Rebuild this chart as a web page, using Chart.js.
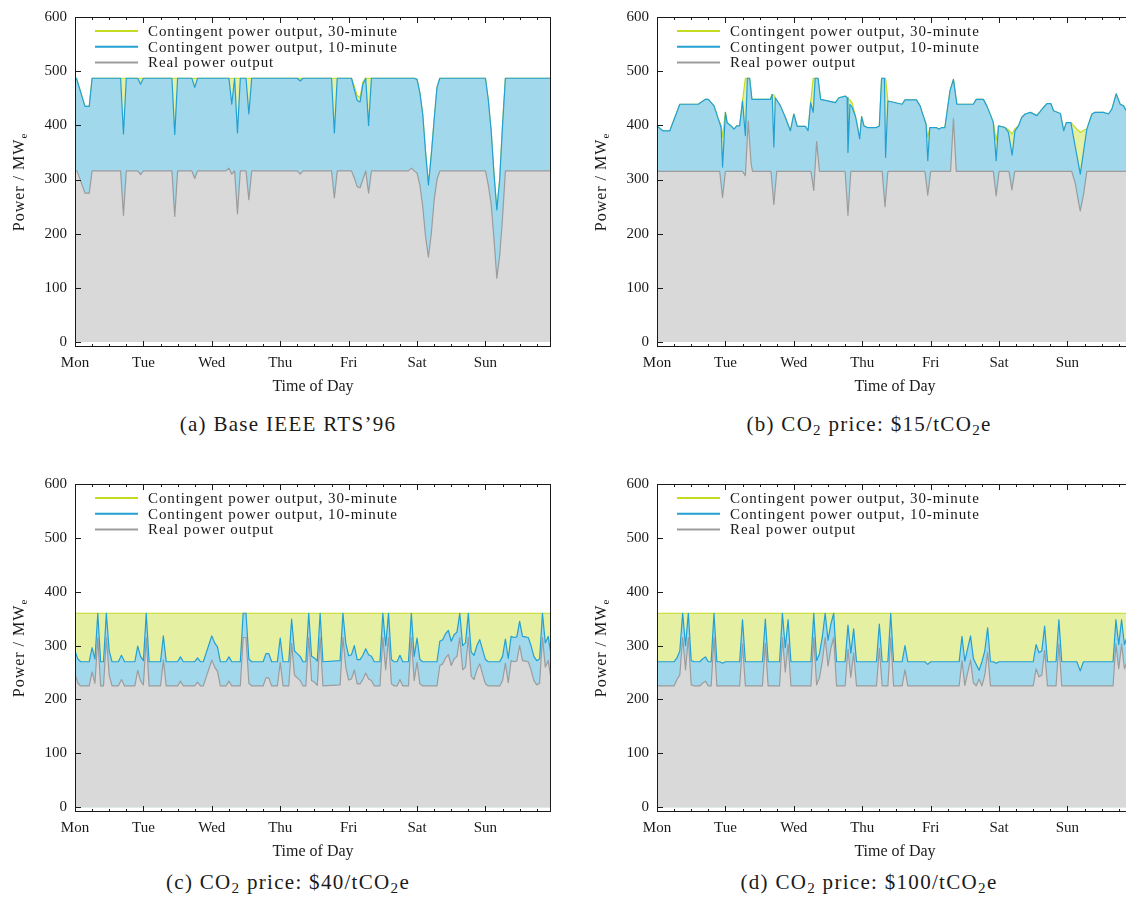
<!DOCTYPE html>
<html>
<head>
<meta charset="utf-8">
<script src="https://cdn.jsdelivr.net/npm/chart.js@4.4.1/dist/chart.umd.min.js"></script>
<style>
  body { margin: 0; background: #fff; width: 1126px; height: 900px; overflow: hidden; position: relative;
         font-family: "Liberation Serif", serif; color: #1a1a1a; }
  .panel { position: absolute; }
  .caption { position: absolute; width: 560px; text-align: center; font-size: 21px; line-height: 24px; letter-spacing: 1.3px; }
  .caption sub { font-size: 72%; vertical-align: -0.25em; line-height: 0; }
</style>
</head>
<body>
<div class="panel" style="left:0;top:0"><canvas id="chartA" width="570" height="400"></canvas></div>
<div class="panel" style="left:582px;top:0"><canvas id="chartB" width="570" height="400"></canvas></div>
<div class="panel" style="left:0;top:467px"><canvas id="chartC" width="570" height="398"></canvas></div>
<div class="panel" style="left:582px;top:467px"><canvas id="chartD" width="570" height="398"></canvas></div>

<div class="caption" style="left:8px;top:412px">(a) Base IEEE RTS’96</div>
<div class="caption" style="left:589px;top:412px">(b) CO<sub>2</sub> price: $15/tCO<sub>2</sub>e</div>
<div class="caption" style="left:8px;top:870px">(c) CO<sub>2</sub> price: $40/tCO<sub>2</sub>e</div>
<div class="caption" style="left:589px;top:870px">(d) CO<sub>2</sub> price: $100/tCO<sub>2</sub>e</div>

<script>
// axis labels
const dayLabels = ['Mon', 'Tue', 'Wed', 'Thu', 'Fri', 'Sat', 'Sun'];
const yTicks = [0, 100, 200, 300, 400, 500, 600];
const xTitle = 'Time of Day';
const yTitle = 'Power / MW';
const yTitleSub = 'e';
const seriesLabels = [
  'Contingent power output, 30-minute',
  'Contingent power output, 10-minute',
  'Real power output'
];

// series are [hour, MW] breakpoints over the week (0 = Monday 00:00)

// (a) base case
const aThirty = [[0,487],[0.5,487],[3.5,435],[5,435],[6,487],
  [97,487],[98,472],[99,455],[100,451],[101,480],[102,487],
  [119,487],[120,485],[121,460],[122,420],[123,350],[124,290],[125,345],[126,410],[127,470],[128,487],
  [144,487],[145,447],[146,390],[147,310],[148,244],[149,300],[150,400],[151,487],
  [167,487]];
const aTen = [[0,487],[0.5,487],[3.5,435],[5,435],[6,487],
  [16,487],[17,384],[18,487],
  [22,487],[23,476],[24,487],
  [34,487],[35,383],[36,487],
  [41,487],[42,470],[43,487],
  [54,487],[55,439],[56,487],[57,386],[58,487],
  [60,487],[61,421],[62,487],
  [78,487],[79,482],[80,487],
  [90,487],[91,386],[92,487],
  [97,487],[98,466],[99,446],[100,443],[101,476],[102,487],[103,400],[104,487],
  [119,487],[120,485],[121,460],[122,420],[123,350],[124,290],[125,345],[126,410],[127,470],[128,487],
  [144,487],[145,447],[146,390],[147,310],[148,244],[149,300],[150,400],[151,487],
  [167,487]];
const aReal = [[0,316],[0.7,316],[3.5,275],[5,275],[6,316],
  [16,316],[17,234],[18,316],
  [22,316],[23,309],[24,316],
  [34,316],[35,232],[36,316],
  [41,316],[42,302],[43,316],
  [53,316],[54,321],[55,310],[56,316],[57,237],[58,316],
  [60,316],[61,263],[62,316],
  [78,316],[79,310],[80,316],
  [90,316],[91,266],[92,316],
  [97,316],[98,303],[99,287],[100,285],[101,300],[102,316],[103,275],[104,316],
  [117,316],[118,321],[119,316],[120,312],[121,290],[122,250],[123,194],[124,157],[125,200],[126,262],[127,300],[128,316],
  [144,316],[145,290],[146,255],[147,190],[148,118],[149,160],[150,230],[151,316],
  [167,316]];

// (b) $15/tCO2e
const bTen = [[0,399],[2,390],[4.5,390],[8,439],[14.5,439],[17,448],[18,448],[20,436],[21.5,412],[22.5,396],[23,323],
  [24,424],[24.6,405],[26,399],[27,393],[28,399],[29,399],[30,445],[31,381],[31.7,487],[32.5,487],[33.3,448],
  [39.8,448],[40.4,457],[41,360],[41.5,451],[43.3,436],[45,415],[46.8,390],[48,421],[49.2,398],[52.1,398],[53,390],
  [53.9,442],[54.8,424],[55.5,487],[56.5,487],[57.4,448],
  [62.6,442],[63.8,451],[66.1,454],[66.7,451],[67,350],[67.7,439],[68.5,433],[69.7,415],[70.5,393],[71.1,375],
  [71.8,416],[72.6,399],[73.8,396],[77,396],[78,399],[78.8,487],[79.8,487],[80.2,341],[81,445],
  [86,439],[87,447],[91,447],[92.3,436],[93.4,418],[94.4,402],[95,335],[95.7,396],[98,396],[98.9,393],[99.9,396],
  [101,396],[102.8,464],[104,485],[105.2,439],[111,439],[112,448],[114.5,448],[115.7,436],[117.1,418],[118,405],
  [119,335],[119.8,399],[122.1,396],[123.3,387],[124.6,345],[125.6,390],[126.8,399],[128,415],[129.2,421],[131,424],
  [133.3,418],[135.6,433],[136.8,440],[138.2,440],[139.1,427],[141.5,422],[142.7,390],[143.6,405],[145.2,405],
  [148.5,310],[150.8,393],[152.6,421],[153.7,424],[156.6,424],[158.4,421],[159.6,430],[161.1,458],[162.5,439],
  [163.7,436],[164.6,427],[167,427]];
// hours where the 30-minute output sits above the 10-minute output
const bThirtyExtra = [[22.5,400],[23,378],[31,487],[41,456],[54.8,487],[67,449],[67.7,447],[68.5,441],
  [80.2,487],[95,378],[119,372],[123.3,392],[124.6,384],[125.6,394],[147,395],[148.5,387],[150,392]];
const bReal = [[0,315],[22,315],[23,267],[24,315],
  [30,315],[31,307],[32,408],[33,330],[33.5,315],
  [40,315],[41,254],[42,315],
  [54,315],[55,280],[56,370],[57,315],
  [66,315],[67,234],[68,315],
  [79,315],[80,250],[81,315],
  [94,315],[95,271],[96,315],
  [103,315],[104,412],[105,315],
  [118,315],[119,270],[120,315],
  [123.5,315],[124.5,281],[125.5,315],
  [145.5,315],[146.8,292],[148,255],[148.5,242],[149.7,274],[150.8,315],
  [167,315]];

// (c) $40/tCO2e
const cThirty = [[0,360],[167,360]];
const cTen = [[0,290],[1,275],[2,270],
  [5,270],[6,296],[7,275],[8,360],[9,270],[10,270],[11,360],[12,290],[13,270],
  [15.2,270],[16.3,282],[17.4,270],
  [21,270],[22,299],[23,280],[24,272],[25,360],[26,270],
  [30,270],[31,318],[32,270],
  [36,270],[37,279],[38,270],
  [42,270],[43,277],[44,270],
  [45,270],[46,286],[47,302],[48,318],[49,305],[50,297],[51,270],
  [53,270],[54,279],[55,270],
  [58,270],[59,360],[60,360],[61,275],[62,270],
  [66,270],[67,285],[68,285],[69,270],
  [71,270],[72,314],[73,270],
  [75,270],[76,349],[77,290],[78,285],[79,280],[80,270],
  [81,270],[82,360],[83,280],[84,277],[85,271],[86,360],[87,270],
  [93,272],[94,360],[95,305],[96,281],[97,283],[98,300],[99,274],[100,274],[101,282],[102,294],[103,283],[104,280],[105,270],
  [107,270],[108,360],[109,300],[110,360],[111,274],[112,270],
  [113,270],[114,282],[115,270],
  [117,270],[118,360],[119,280],[120,314],[121,274],[122,270],
  [127,270],[128,308],[129,311],[130,322],[131,328],[132,308],[133,320],[134,325],[135,360],[136,300],[137,305],
  [138,360],[139,288],[140,282],[141,300],[142,311],[143,292],[144,274],[145,270],
  [149,270],[150,280],[151,312],[152,276],[153,317],[154,315],[155,316],[156,345],[157,317],[158,316],[159,315],
  [160,300],[161,280],[162,272],[163,275],[164,360],[165,305],[166,317],[167,283]];
const cReal = [[0,248],[1,230],[2,225],
  [5,225],[6,251],[7,230],[8,315],[9,225],[10,225],[11,315],[12,245],[13,225],
  [15.2,225],[16.3,237],[17.4,225],
  [21,225],[22,254],[23,235],[24,227],[25,315],[26,225],
  [30,225],[31,273],[32,225],
  [36,225],[37,234],[38,225],
  [42,225],[43,232],[44,225],
  [45,225],[46,241],[47,257],[48,273],[49,260],[50,252],[51,225],
  [53,225],[54,234],[55,225],
  [58,225],[59,315],[60,315],[61,230],[62,225],
  [66,225],[67,240],[68,240],[69,225],
  [71,225],[72,269],[73,225],
  [75,225],[76,304],[77,245],[78,240],[79,235],[80,225],
  [81,225],[82,315],[83,235],[84,232],[85,226],[86,315],[87,225],
  [93,227],[94,315],[95,260],[96,236],[97,238],[98,255],[99,229],[100,229],[101,237],[102,249],[103,238],[104,235],[105,225],
  [107,225],[108,315],[109,255],[110,315],[111,229],[112,225],
  [113,225],[114,237],[115,225],
  [117,225],[118,315],[119,235],[120,269],[121,229],[122,225],
  [127,225],[128,263],[129,266],[130,277],[131,283],[132,263],[133,275],[134,280],[135,315],[136,255],[137,260],
  [138,315],[139,243],[140,237],[141,255],[142,266],[143,247],[144,229],[145,225],
  [149,225],[150,235],[151,267],[152,231],[153,272],[154,270],[155,271],[156,300],[157,272],[158,271],[159,270],
  [160,255],[161,235],[162,227],[163,230],[164,315],[165,260],[166,272],[167,238]];

// (d) $100/tCO2e
const dThirty = [[0,360],[167,360]];
const dTen = [[0,270],[6,270],[7,277],[8,290],[9,360],[10,300],[11,360],[12,272],[13,270],
  [15,270],[16,275],[17,279],[18,270],
  [19,270],[20,360],[21,270],
  [22,270],[23,267],[24,270],
  [29,270],[30,348],[31,270],
  [37,270],[38,349],[39,270],
  [43,270],[44,360],[45,296],[46,348],[47,270],
  [54,270],[55,360],[56,272],[57,285],[58,316],[59,360],[60,310],[61,340],[62,360],[63,270],
  [66,270],[67,338],[68,286],[69,331],[70,270],
  [77,270],[78,340],[79,270],
  [81,270],[82,360],[83,270],
  [86,270],[87,300],[88,270],
  [94,270],[95,265],[96,270],
  [106,270],[107,317],[108,271],[109,295],[110,318],[111,276],[112,265],[113,254],[114,270],[115,290],[116,333],[117,270],
  [118,270],[119,267],[120,270],
  [132,270],[133,302],[134,287],[135,290],[136,336],[137,270],
  [140,270],[141,348],[142,270],
  [147.3,270],[148.5,253],[149.6,270],
  [160,270],[161,348],[162,302],[163,348],[164,302],[165,317],[166,300],[167,290]];
const dReal = [[0,225],[6,225],[7,237],[8,245],[9,315],[10,255],[11,315],[12,227],[13,225],
  [15,225],[16,230],[17,234],[18,225],
  [19,225],[20,315],[21,225],
  [29,225],[30,303],[31,225],
  [37,225],[38,304],[39,225],
  [43,225],[44,315],[45,251],[46,303],[47,225],
  [54,225],[55,315],[56,227],[57,240],[58,271],[59,315],[60,262],[61,295],[62,315],[63,225],
  [66,225],[67,293],[68,241],[69,286],[70,225],
  [77,225],[78,295],[79,225],
  [81,225],[82,315],[83,225],
  [86,225],[87,255],[88,225],
  [106,225],[107,272],[108,226],[109,250],[110,273],[111,231],[112,225],[113,238],[114,225],[115,245],[116,288],[117,225],
  [132,225],[133,257],[134,242],[135,245],[136,291],[137,225],
  [140,225],[141,303],[142,225],
  [160,225],[161,303],[162,257],[163,303],[164,257],[165,272],[166,255],[167,245]];

// 30-minute curve = 10-minute curve with its own values at the listed hours
function withOverrides(base, extra) {
  const m = new Map(base.map(([h, v]) => [h, v]));
  extra.forEach(([h, v]) => m.set(h, v));
  return [...m.entries()].sort((p, q) => p[0] - q[0]);
}

const panels = [
  { id: 'chartA', thirty: aThirty, ten: aTen, real: aReal },
  { id: 'chartB', thirty: withOverrides(bTen, bThirtyExtra), ten: bTen, real: bReal },
  { id: 'chartC', thirty: cThirty, ten: cTen, real: cReal },
  { id: 'chartD', thirty: dThirty, ten: dTen, real: dReal },
];

const styles = [
  { line: '#c3da1f', fill: '#e6f0a2', order: 3 },
  { line: '#22a0d3', fill: '#a2d8ec', order: 2 },
  { line: '#9c9c9c', fill: '#d9d9d9', order: 1 },
];

const FONT = '"Liberation Serif", serif';
const INK = '#1a1a1a';
Chart.defaults.font.family = FONT;
Chart.defaults.font.size = 15;
Chart.defaults.color = INK;

// frame, inward ticks, in-plot legend and the y title with subscript
const decor = {
  id: 'decor',
  afterDatasetsDraw(chart) {
    const { ctx, chartArea: a, scales: { x, y } } = chart;
    ctx.save();
    ctx.strokeStyle = INK;
    ctx.lineWidth = 1;
    ctx.beginPath();
    for (let h = 0; h <= x.max; h += 6) {
      const px = Math.round(x.getPixelForValue(h)) + 0.5;
      const len = h % 24 === 0 ? 6 : 3;
      ctx.moveTo(px, a.bottom); ctx.lineTo(px, a.bottom - len);
      ctx.moveTo(px, a.top); ctx.lineTo(px, a.top + len);
    }
    yTicks.forEach(v => {
      const py = Math.round(y.getPixelForValue(v)) + 0.5;
      ctx.moveTo(a.left, py); ctx.lineTo(a.left + 6, py);
    });
    ctx.stroke();
    ctx.strokeRect(Math.round(a.left) + 0.5, Math.round(a.top) + 0.5, Math.round(a.width) - 1, Math.round(a.height) - 1);

    // legend
    ctx.font = '15px ' + FONT;
    ctx.letterSpacing = '0.9px';
    ctx.textBaseline = 'middle';
    ctx.fillStyle = INK;
    chart.data.datasets.forEach((ds, i) => {
      const ly = a.top + 14 + i * 15.7;
      ctx.strokeStyle = ds.borderColor;
      ctx.lineWidth = 2;
      ctx.beginPath();
      ctx.moveTo(a.left + 20, ly); ctx.lineTo(a.left + 63, ly);
      ctx.stroke();
      ctx.fillText(ds.label, a.left + 73, ly + 1);
    });
    ctx.restore();
  },
  afterDraw(chart) {
    const { ctx, chartArea: a } = chart;
    ctx.save();
    ctx.translate(20, (a.top + a.bottom) / 2);
    ctx.rotate(-Math.PI / 2);
    ctx.fillStyle = INK;
    ctx.textBaseline = 'middle';
    ctx.letterSpacing = '1px';
    ctx.font = '16px ' + FONT;
    const w1 = ctx.measureText(yTitle).width;
    ctx.font = '11px ' + FONT;
    const w2 = ctx.measureText(yTitleSub).width;
    const x0 = -(w1 + w2) / 2;
    ctx.font = '16px ' + FONT;
    ctx.fillText(yTitle, x0, 0);
    ctx.font = '11px ' + FONT;
    ctx.fillText(yTitleSub, x0 + w1, 4);
    ctx.restore();
  }
};

function makeChart(p) {
  const series = [p.thirty, p.ten, p.real];
  return new Chart(document.getElementById(p.id), {
    type: 'line',
    data: {
      datasets: series.map((pts, i) => ({
        label: seriesLabels[i],
        data: pts.map(([h, v]) => ({ x: h, y: v })),
        borderColor: styles[i].line,
        backgroundColor: styles[i].fill,
        order: styles[i].order,
        fill: 'origin',
        borderWidth: 1.2,
        borderJoinStyle: 'round',
        pointRadius: 0,
        tension: 0
      }))
    },
    options: {
      responsive: false,
      animation: false,
      devicePixelRatio: 1,
      events: [],
      layout: { padding: { top: 16, right: 19, left: 0, bottom: 0 } },
      plugins: { legend: { display: false }, tooltip: { enabled: false } },
      scales: {
        x: {
          type: 'linear', min: 0, max: 167,
          grid: { display: false, drawTicks: false },
          border: { display: false },
          afterBuildTicks: s => { s.ticks = dayLabels.map((_, i) => ({ value: i * 24 })); },
          afterFit: s => { s.height = 53; },
          ticks: {
            autoSkip: false, maxRotation: 0, padding: 7,
            callback: v => dayLabels[Math.round(v / 24)]
          },
          title: { display: true, text: xTitle, font: { size: 16 }, padding: { top: 0, bottom: 4 } }
        },
        y: {
          min: -9, max: 600,
          grid: { display: false, drawTicks: false },
          border: { display: false },
          afterBuildTicks: s => { s.ticks = yTicks.map(v => ({ value: v })); },
          afterFit: s => { s.width = 75; },
          ticks: { padding: 8 }
        }
      }
    },
    plugins: [decor]
  });
}

panels.forEach(makeChart);
</script>
</body>
</html>
